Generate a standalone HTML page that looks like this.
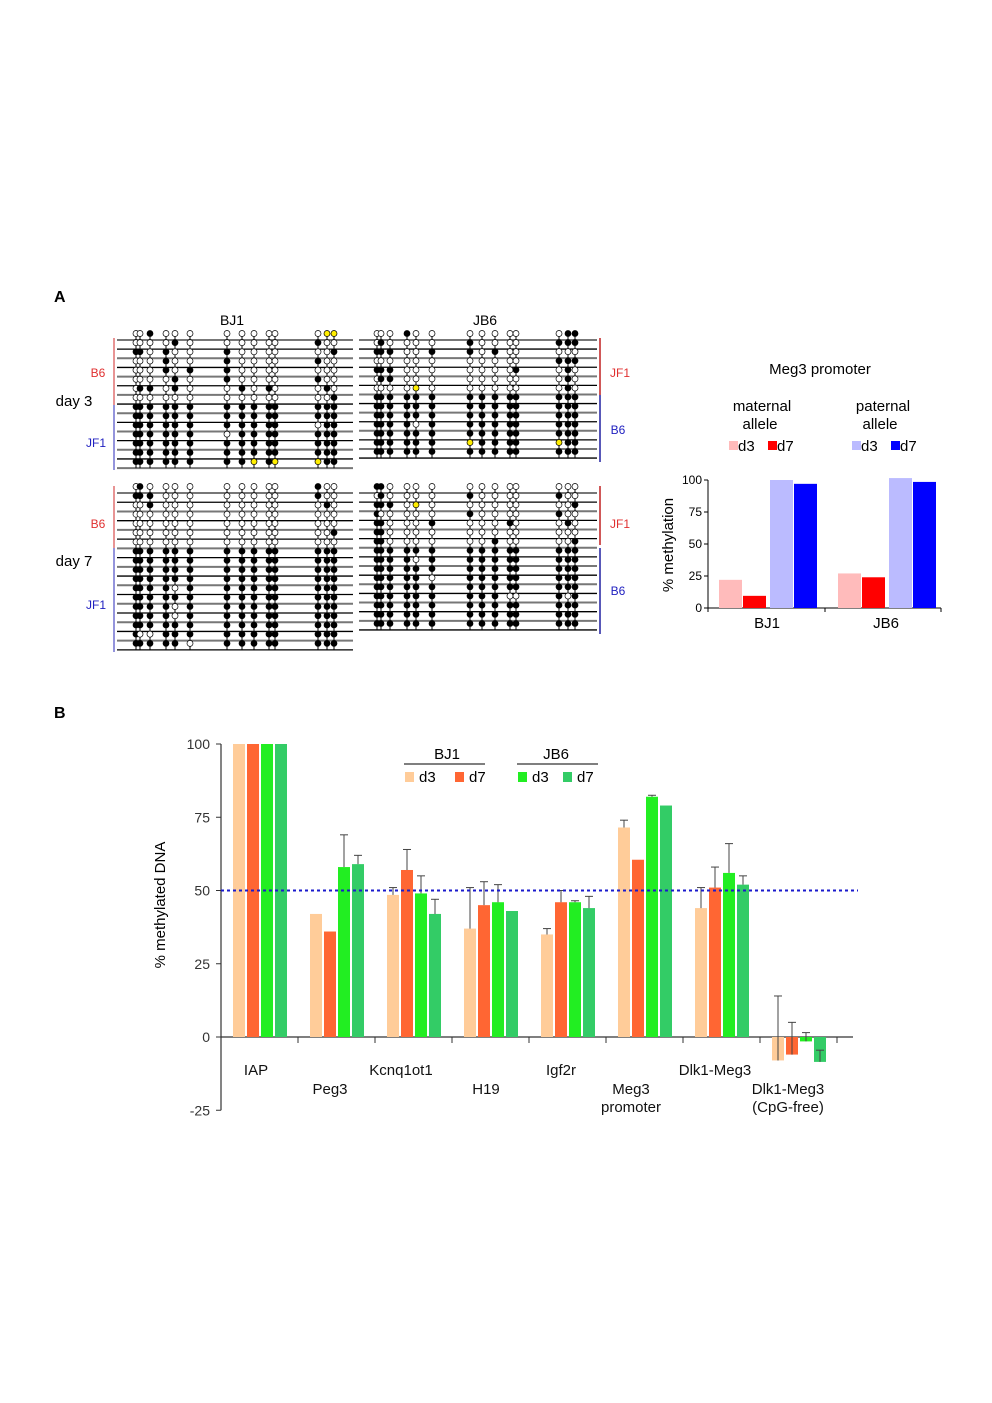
<!DOCTYPE html>
<html><head><meta charset="utf-8"><style>
html,body{margin:0;padding:0;background:#fff;}
svg{display:block;font-family:"Liberation Sans",Arial,sans-serif;}
</style></head><body>
<svg id="fig" width="992" height="1403" viewBox="0 0 992 1403" xmlns="http://www.w3.org/2000/svg">
<g id="panelA">
<text x="54" y="302" font-size="16" font-weight="bold">A</text>
<text x="232" y="325" font-size="14" text-anchor="middle">BJ1</text>
<text x="485" y="325" font-size="14" text-anchor="middle">JB6</text>
<text x="98" y="377" font-size="12" fill="#e03030" text-anchor="middle">B6</text>
<text x="74" y="406" font-size="15" text-anchor="middle">day 3</text>
<text x="96" y="447" font-size="12" fill="#2020c0" text-anchor="middle">JF1</text>
<text x="98" y="528" font-size="12" fill="#e03030" text-anchor="middle">B6</text>
<text x="74" y="566" font-size="15" text-anchor="middle">day 7</text>
<text x="96" y="609" font-size="12" fill="#2020c0" text-anchor="middle">JF1</text>
<text x="620" y="377" font-size="12" fill="#e03030" text-anchor="middle">JF1</text>
<text x="618" y="434" font-size="12" fill="#2020c0" text-anchor="middle">B6</text>
<text x="620" y="528" font-size="12" fill="#e03030" text-anchor="middle">JF1</text>
<text x="618" y="595" font-size="12" fill="#2020c0" text-anchor="middle">B6</text>
<g id="dots"></g>
<text x="820" y="374" font-size="15" text-anchor="middle">Meg3 promoter</text>
<text x="762" y="411" font-size="15" text-anchor="middle">maternal</text>
<text x="760" y="429" font-size="15" text-anchor="middle">allele</text>
<text x="883" y="411" font-size="15" text-anchor="middle">paternal</text>
<text x="880" y="429" font-size="15" text-anchor="middle">allele</text>
<g id="chartA"></g>
</g>
<g id="panelB">
<text x="54" y="718" font-size="16" font-weight="bold">B</text>
<g id="chartB"></g>
</g>
</svg>
<script>
// ---- Chart A data ----
var aGroups = ["BJ1","JB6"];
var aMatD3 = [22, 27];
var aMatD7 = [9.5, 24];
var aPatD3 = [100, 101.5];
var aPatD7 = [97, 98.5];
var aTicks = [0,25,50,75,100];
// ---- Chart B data ----
var bCats = ["IAP","Peg3","Kcnq1ot1","H19","Igf2r","Meg3 promoter","Dlk1-Meg3","Dlk1-Meg3 (CpG-free)"];
var bBJ1d3 = [100, 42, 48.5, 37, 35, 71.5, 44, -8];
var bBJ1d7 = [100, 36, 57, 45, 46, 60.5, 51, -6];
var bJB6d3 = [100, 58, 49, 46, 46, 82, 56, -1.5];
var bJB6d7 = [100, 59, 42, 43, 44, 79, 52, -8.5];
var bErrBJ1d3 = [100, 42, 51, 51, 37, 74, 51, 14];
var bErrBJ1d7 = [100, 36, 64, 53, 50, 60.5, 58, 5];
var bErrJB6d3 = [100, 69, 55, 52, 46.5, 82.5, 66, 1.5];
var bErrJB6d7 = [100, 62, 47, 43, 48, 79, 55, -4.5];
var bTicks = [100,75,50,25,0,-25];
// ---- Bisulfite dot data ----
var bj1d3 = ["000000000000yy","00001000000100","11010010000001","00010010000100","00010110000000","00001010000100","01101001010010","00000000000001",
 "11111111111111","11111111111111","11111111111011","11111101111111","11111111111111","11111111111111","11111111y1yy11"];
bj1d3[0]="00100000000 yy".replace(' ','0');
var jb6d3 = ["00010000000011","01000010000111","11100110100000","00000000000111","11100000001010","01100000000010","0000y000000010",
 "11111111111111","11111111111111","11111111111111","11110111111111","11111111111111","111111y1111y11","11111111111111"];
var bj1d7 = ["01000000000100","11100000000100","00100000000010","00000000000000","00000000000000","00000000000001","00000000000000",
 "11111111111111","11111111111111","11111111111111","11111111111111","11110111111111","11111111111111","11110111111111","11110111111111","11111111111111","10011111111111","11111011111111"];
var jb6d7 = ["11000000000000","01000010000100","1110y000000001","10000010000100","11000100010010","11000000000000","11000000100001",
 "11111111111111","11110111111111","11111111111111","11111011111111","11111111111111","11111111100101","11111111111111","11111111111111","11111111111111"];
var colsBJ1 = [136,140,150,166,175,190,227,242,254,269,275,318,327,334];
var colsJB6 = [377,381,390,407,416,432,470,482,495,510,516,559,568,575];

var NS="http://www.w3.org/2000/svg";
function mk(tag, attrs, parent){var e=document.createElementNS(NS,tag);for(var k in attrs)e.setAttribute(k,attrs[k]);parent.appendChild(e);return e;}

// ---- dots ----
var dotsG=document.getElementById('dots');
function panel(rows, cols, x0, x1, yFirst, step, name){
  var g=mk('g',{},dotsG);
  
  
  for(var i=0;i<rows.length;i++){
    var ly=yFirst+i*step;
    var ln=mk('line',{x1:x0,x2:x1,y1:ly,y2:ly,stroke:(i%2?'#000':'#777'),'stroke-width':(i%2?1.3:2)},g);
    
    
    for(var j=0;j<cols.length;j++){
      var c=rows[i][j]||'0';
      mk('line',{x1:cols[j],x2:cols[j],y1:ly-5,y2:ly,stroke:'#000','stroke-width':1},g);
      var ci=mk('circle',{cx:cols[j],cy:ly-6.5,r:3,fill:(c==='1'?'#000':(c==='y'?'#ffee00':'#fff')),stroke:'#000','stroke-width':0.7},g);
      
      
    }
  }
}
panel(bj1d3,colsBJ1,117,353,340,9.15,'bj1-day3-bisulfite');
panel(jb6d3,colsJB6,359,597,340,9.08,'jb6-day3-bisulfite');
panel(bj1d7,colsBJ1,117,353,493,9.23,'bj1-day7-bisulfite');
panel(jb6d7,colsJB6,359,597,493,9.13,'jb6-day7-bisulfite');
function vbar(x,y1,y2,col,name){var l=mk('line',{x1:x,x2:x,y1:y1,y2:y2,stroke:col,'stroke-width':1.5},dotsG);}
vbar(114,338,405,'#e07070','b6-bracket-bj1-day3');vbar(114,405,470,'#7070d0','jf1-bracket-bj1-day3');
vbar(600,338,395,'#c02020','jf1-bracket-jb6-day3');vbar(600,395,462,'#2020a0','b6-bracket-jb6-day3');
vbar(114,486,548,'#e07070','b6-bracket-bj1-day7');vbar(114,548,652,'#7070d0','jf1-bracket-bj1-day7');
vbar(600,486,545,'#c02020','jf1-bracket-jb6-day7');vbar(600,548,634,'#2020a0','b6-bracket-jb6-day7');

// ---- Chart A ----
var cA=document.getElementById('chartA');
var aY0=608, aScale=1.28;
function ay(v){return aY0-v*aScale;}
var aCenters=[767,886];
function ax(gi,k){return aCenters[gi]-48+k*24 + (k>=2?3:0);}
mk('line',{x1:708,x2:708,y1:ay(100),y2:aY0,stroke:'#000','stroke-width':1},cA);
mk('line',{x1:708,x2:941,y1:aY0,y2:aY0,stroke:'#000','stroke-width':1},cA);
[708,825,941].forEach(function(x){mk('line',{x1:x,x2:x,y1:aY0,y2:aY0+4,stroke:'#000'},cA);});
aTicks.forEach(function(t){
  mk('line',{x1:704,x2:708,y1:ay(t),y2:ay(t),stroke:'#000'},cA);
  var tx=mk('text',{x:702,y:ay(t)+4,'font-size':12,'text-anchor':'end'},cA);tx.textContent=t;
  
  
});
var aSeries=[aMatD3,aMatD7,aPatD3,aPatD7], aCols=['#ffbbbb','#ff0000','#bbbbff','#0000ff'], aNames=['maternal-d3','maternal-d7','paternal-d3','paternal-d7'];
for(var g=0;g<aGroups.length;g++){
  for(var k=0;k<4;k++){
    var v=aSeries[k][g];
    var r=mk('rect',{x:ax(g,k),y:ay(v),width:23,height:aY0-ay(v),fill:aCols[k]},cA);
    
    
  }
  var lt=mk('text',{x:aCenters[g],y:628,'font-size':15,'text-anchor':'middle'},cA);lt.textContent=aGroups[g];
  
  
}
var yl=mk('text',{x:0,y:0,'font-size':15,'text-anchor':'middle',transform:'translate(673,545) rotate(-90)'},cA);yl.textContent='% methylation';


var legA=[[729,'d3',0],[768,'d7',1],[852,'d3',2],[891,'d7',3]];
legA.forEach(function(l){
  var s=mk('rect',{x:l[0],y:441,width:9,height:9,fill:aCols[l[2]]},cA);
  
  
  var t=mk('text',{x:l[0]+9,y:451,'font-size':15},cA);t.textContent=l[1];
  
  
});

// ---- Chart B ----
var cB=document.getElementById('chartB');
var bY0=1037, bScale=2.93, bX0=221, bStep=77;
function by(v){return bY0-v*bScale;}
function bx(ci,k){return bX0+12+ci*bStep+k*14;}
mk('line',{x1:bX0,x2:bX0,y1:by(100),y2:by(-25),stroke:'#333','stroke-width':1.2},cB);
mk('line',{x1:bX0,x2:853,y1:bY0,y2:bY0,stroke:'#333','stroke-width':1.2},cB);
for(var i=0;i<=bCats.length;i++){var tx=bX0+i*bStep;mk('line',{x1:tx,x2:tx,y1:bY0,y2:bY0+6,stroke:'#333'},cB);}
bTicks.forEach(function(t){
  mk('line',{x1:bX0-5,x2:bX0,y1:by(t),y2:by(t),stroke:'#333'},cB);
  var tt=mk('text',{x:bX0-11,y:by(t)+5,'font-size':14,'text-anchor':'end',fill:'#333'},cB);tt.textContent=t;
  
  
});
var bSeries=[bBJ1d3,bBJ1d7,bJB6d3,bJB6d7], bErr=[bErrBJ1d3,bErrBJ1d7,bErrJB6d3,bErrJB6d7];
var bCols=['#ffcc99','#ff6633','#22ee22','#33cc66'], bNames=['bj1-d3','bj1-d7','jb6-d3','jb6-d7'];
for(var c=0;c<bCats.length;c++){
  for(var k=0;k<4;k++){
    var v=bSeries[k][c], x=bx(c,k);
    var barTop=Math.min(by(v),bY0), barH=Math.abs(by(v)-bY0);
    var r=mk('rect',{x:x,y:barTop,width:12,height:barH,fill:bCols[k]},cB);
    
    
    var e=bErr[k][c];
    if(e!==v){
      var ex=x+6;
      mk('line',{x1:ex,x2:ex,y1:by(v),y2:by(e),stroke:'#444','stroke-width':1},cB);
      mk('line',{x1:ex-4,x2:ex+4,y1:by(e),y2:by(e),stroke:'#444','stroke-width':1},cB);
    }
  }
}
var dl=mk('line',{x1:bX0,x2:858,y1:by(50),y2:by(50),stroke:'#1a1acc','stroke-width':2,'stroke-dasharray':'3,3'},cB);


var catLabels=[[256,1075,['IAP']],[330,1094,['Peg3']],[401,1075,['Kcnq1ot1']],[486,1094,['H19']],[561,1075,['Igf2r']],[631,1094,['Meg3','promoter']],[715,1075,['Dlk1-Meg3']],[788,1094,['Dlk1-Meg3','(CpG-free)']]];
catLabels.forEach(function(l,i){
  var t=mk('text',{x:l[0],y:l[1],'font-size':15,'text-anchor':'middle',fill:'#111'},cB);
  
  
  l[2].forEach(function(s,j){var ts=mk('tspan',{x:l[0],dy:(j?18:0)},t);ts.textContent=s;});
});
var ylb=mk('text',{x:0,y:0,'font-size':15,'text-anchor':'middle',transform:'translate(165,905) rotate(-90)'},cB);ylb.textContent='% methylated DNA';


var lg=[[447,'BJ1',404,485],[556,'JB6',517,598]];
lg.forEach(function(l){
  var t=mk('text',{x:l[0],y:759,'font-size':15,'text-anchor':'middle'},cB);t.textContent=l[1];
  
  
  mk('line',{x1:l[2],x2:l[3],y1:764,y2:764,stroke:'#333','stroke-width':1.3},cB);
});
var lgi=[[405,'d3'],[455,'d7'],[518,'d3'],[563,'d7']];
lgi.forEach(function(l,i){
  var s=mk('rect',{x:l[0],y:772,width:9,height:10,fill:bCols[i]},cB);
  
  
  var t=mk('text',{x:l[0]+14,y:782,'font-size':15},cB);t.textContent=l[1];
  
  
});
</script>
</body></html>
